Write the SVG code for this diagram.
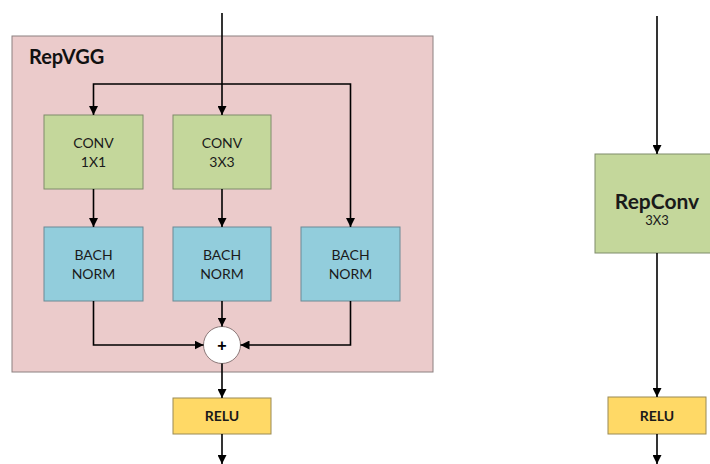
<svg xmlns="http://www.w3.org/2000/svg" width="710" height="464" viewBox="0 0 710 464">
  <defs>
    <marker id="arrow" viewBox="0 0 10 10" refX="10" refY="5" markerWidth="9" markerHeight="9" markerUnits="userSpaceOnUse" orient="auto">
      <path d="M0,0 L10,5 L0,10 z" fill="#000"/>
    </marker>
    <style>
      .frame { fill: #EBCBCB; stroke: #8C8080; stroke-width: 1; }
      .conv { fill: #C4D79B; stroke: #7F8C6A; stroke-width: 1; }
      .bn { fill: #92CDDC; stroke: #6A8A95; stroke-width: 1; }
      .relu { fill: #FFD966; stroke: #9A8A55; stroke-width: 1; }
      .sum { fill: #FFFFFF; stroke: #8C7A7A; stroke-width: 1; }
      .wire { fill: none; stroke: #000; stroke-width: 1.6; }
      .lbl { font-family: Lato, "Open Sans", "Liberation Sans", sans-serif; font-size: 14px; fill: #1A1A1A; text-anchor: middle; }
      .bold { font-weight: bold; }
      .big { font-size: 21px; }
      .small { font-size: 13px; }
      .plus { font-family: "Liberation Sans", sans-serif; font-size: 16px; font-weight: bold; fill: #000; text-anchor: middle; }
      .title { font-family: Lato, "Open Sans", "Liberation Sans", sans-serif; font-size: 20px; font-weight: bold; fill: #111; }
    </style>
  </defs>
  <rect width="710" height="464" fill="#FFFFFF"/>

  <!-- RepVGG training-time block -->
  <g id="repvgg-block">
    <rect class="frame" x="12" y="36" width="421" height="336"/>
    <text class="title" x="29" y="64">RepVGG</text>
  </g>

  <g id="conv1x1">
    <rect class="conv" x="44" y="115" width="99" height="74"/>
    <text class="lbl" x="93.5" y="148">CONV</text>
    <text class="lbl" x="93.5" y="167">1X1</text>
  </g>
  <g id="conv3x3">
    <rect class="conv" x="173" y="115" width="98" height="74"/>
    <text class="lbl" x="222" y="148">CONV</text>
    <text class="lbl" x="222" y="167">3X3</text>
  </g>

  <g id="bn1">
    <rect class="bn" x="44" y="227" width="99" height="74"/>
    <text class="lbl" x="93.5" y="260">BACH</text>
    <text class="lbl" x="93.5" y="279">NORM</text>
  </g>
  <g id="bn2">
    <rect class="bn" x="173" y="227" width="98" height="74"/>
    <text class="lbl" x="222" y="260">BACH</text>
    <text class="lbl" x="222" y="279">NORM</text>
  </g>
  <g id="bn3">
    <rect class="bn" x="301" y="227" width="99" height="74"/>
    <text class="lbl" x="350.5" y="260">BACH</text>
    <text class="lbl" x="350.5" y="279">NORM</text>
  </g>

  <g id="add">
    <circle class="sum" cx="222" cy="345" r="18.5"/>
    <text class="plus" x="222" y="350.5">+</text>
  </g>

  <g id="relu-left">
    <rect class="relu" x="173" y="398" width="98" height="36"/>
    <text class="lbl bold" x="222" y="421">RELU</text>
  </g>

  <!-- Inference-time block -->
  <g id="repconv">
    <rect class="conv" x="595" y="154" width="124" height="99"/>
    <text class="lbl bold big" x="657" y="209">RepConv</text>
    <text class="lbl small" x="657" y="225">3X3</text>
  </g>

  <g id="relu-right">
    <rect class="relu" x="608" y="397" width="98" height="37"/>
    <text class="lbl bold" x="657" y="421">RELU</text>
  </g>

  <g id="connectors">
    <!-- input split -->
    <path class="wire" d="M222,13 V115" marker-end="url(#arrow)"/>
    <path class="wire" d="M222,84 H93.5 V115" marker-end="url(#arrow)"/>
    <path class="wire" d="M222,84 H350.5 V227" marker-end="url(#arrow)"/>
    <!-- conv to batch norm -->
    <path class="wire" d="M93.5,189 V227" marker-end="url(#arrow)"/>
    <path class="wire" d="M222,189 V227" marker-end="url(#arrow)"/>
    <!-- batch norm to sum -->
    <path class="wire" d="M222,301 V326.5" marker-end="url(#arrow)"/>
    <path class="wire" d="M93.5,301 V345 H203.5" marker-end="url(#arrow)"/>
    <path class="wire" d="M350.5,301 V345 H240.5" marker-end="url(#arrow)"/>
    <!-- sum to relu and out -->
    <path class="wire" d="M222,363.5 V398" marker-end="url(#arrow)"/>
    <path class="wire" d="M222,434 V464" marker-end="url(#arrow)"/>
    <!-- inference path -->
    <path class="wire" d="M657,16 V154" marker-end="url(#arrow)"/>
    <path class="wire" d="M657,253 V397" marker-end="url(#arrow)"/>
    <path class="wire" d="M657,434 V464" marker-end="url(#arrow)"/>
  </g>
</svg>
